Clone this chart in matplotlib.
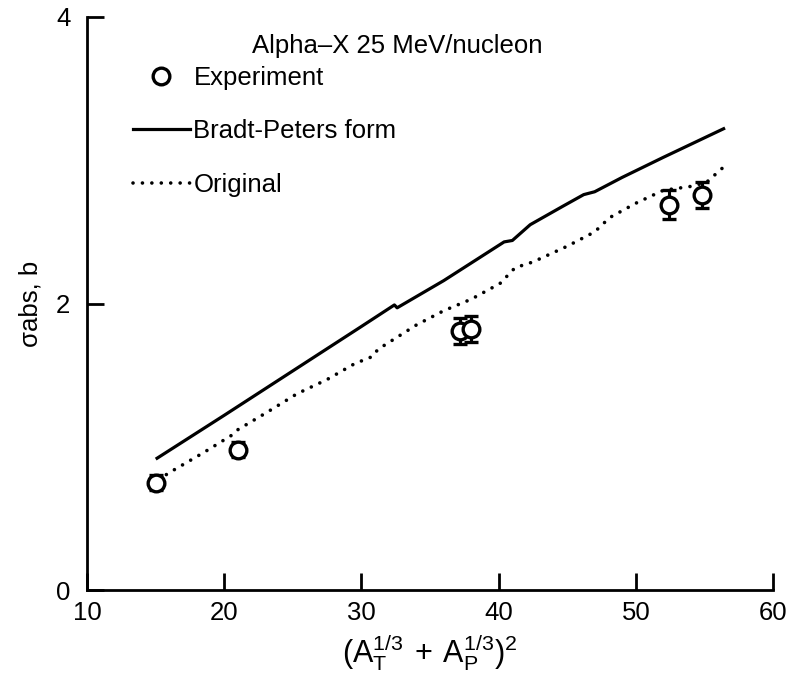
import matplotlib
matplotlib.use('Agg')
import matplotlib.pyplot as plt

# Experiment points (x = (A_T^1/3 + A_P^1/3)^2, sigma_abs in barns)
exp_x = [15.0, 21.0, 37.2, 38.0, 52.4, 54.8]
exp_y = [0.75, 0.98, 1.81, 1.82, 2.69, 2.76]
exp_err = [0.05, 0.05, 0.09, 0.09, 0.10, 0.09]

# Bradt-Peters form (solid)
bp_x = [15.1, 20.0, 25.0, 30.0, 32.4, 32.6, 36.0, 40.4, 41.0, 42.3,
        44.7, 46.2, 47.0, 47.6, 49.0, 52.0, 56.4]
bp_y = [0.92, 1.22, 1.53, 1.84, 1.99, 1.97, 2.16, 2.43, 2.44, 2.55,
        2.68, 2.76, 2.78, 2.81, 2.88, 3.02, 3.22]

# Original (dotted)
orig_x = [15.2, 16.0, 18.5, 20.7, 21.0, 23.1, 25.3, 27.5, 29.5, 30.8,
          31.2, 34.0, 36.0, 38.0, 40.1, 41.2, 42.5, 45.0, 47.0, 48.1,
          50.0, 52.0, 54.2, 55.2, 56.6]
orig_y = [0.77, 0.82, 0.96, 1.09, 1.12, 1.24, 1.37, 1.47, 1.58, 1.63,
          1.68, 1.85, 1.95, 2.03, 2.14, 2.25, 2.29, 2.40, 2.50, 2.60,
          2.70, 2.79, 2.82, 2.85, 2.97]

x_ticks = [10, 20, 30, 40, 50, 60]
y_ticks = [0, 2, 4]


def main():
    plt.rcParams['font.family'] = ['Liberation Sans', 'DejaVu Sans']
    plt.rcParams['mathtext.default'] = 'regular'

    fig = plt.figure(figsize=(7.92, 6.79), dpi=100)
    ax = fig.add_axes([0.110, 0.131, 0.866, 0.844])

    ax.plot(bp_x, bp_y, color='black', lw=2.3, label='Bradt-Peters form')
    ax.plot(orig_x, orig_y, color='black', lw=2.6, linestyle=(0, (0.01, 2.6)),
            dash_capstyle='round', label='Original')

    ax.errorbar(exp_x, exp_y, yerr=exp_err, fmt='none', ecolor='black',
                elinewidth=2.2, capsize=5, capthick=2.4)
    ax.plot(exp_x, exp_y, 'o', ms=12, mfc='white', mec='black', mew=2.4,
            linestyle='none', label='Experiment')

    ax.set_xlim(10, 60)
    ax.set_ylim(0, 4)
    ax.set_xticks(x_ticks)
    ax.set_yticks(y_ticks)

    for side in ['top', 'right']:
        ax.spines[side].set_visible(False)
    for side in ['left', 'bottom']:
        ax.spines[side].set_linewidth(2)

    ax.tick_params(direction='in', length=12, width=2, labelsize=18.5, pad=8)
    ax.tick_params(axis='y', pad=12)

    ax.set_xlabel(r'$(A_T^{1/3}\,+\,A_P^{1/3})^2$', fontsize=22, labelpad=5)
    ax.set_ylabel('σabs, b', fontsize=18.5, labelpad=10)

    ax.text(0.24, 0.949, 'Alpha\u2013X 25 MeV/nucleon', transform=ax.transAxes,
            ha='left', va='center', fontsize=18.5)

    handles, labels = ax.get_legend_handles_labels()
    order = [labels.index('Experiment'), labels.index('Bradt-Peters form'),
             labels.index('Original')]
    ax.legend([handles[i] for i in order], [labels[i] for i in order],
              loc='upper left', bbox_to_anchor=(0.067, 0.915), frameon=False,
              fontsize=18.5, handlelength=2.2, handletextpad=0.15,
              labelspacing=1.15, borderpad=0, borderaxespad=0, numpoints=1)

    fig.savefig('out.png', dpi=100)


if __name__ == '__main__':
    main()
